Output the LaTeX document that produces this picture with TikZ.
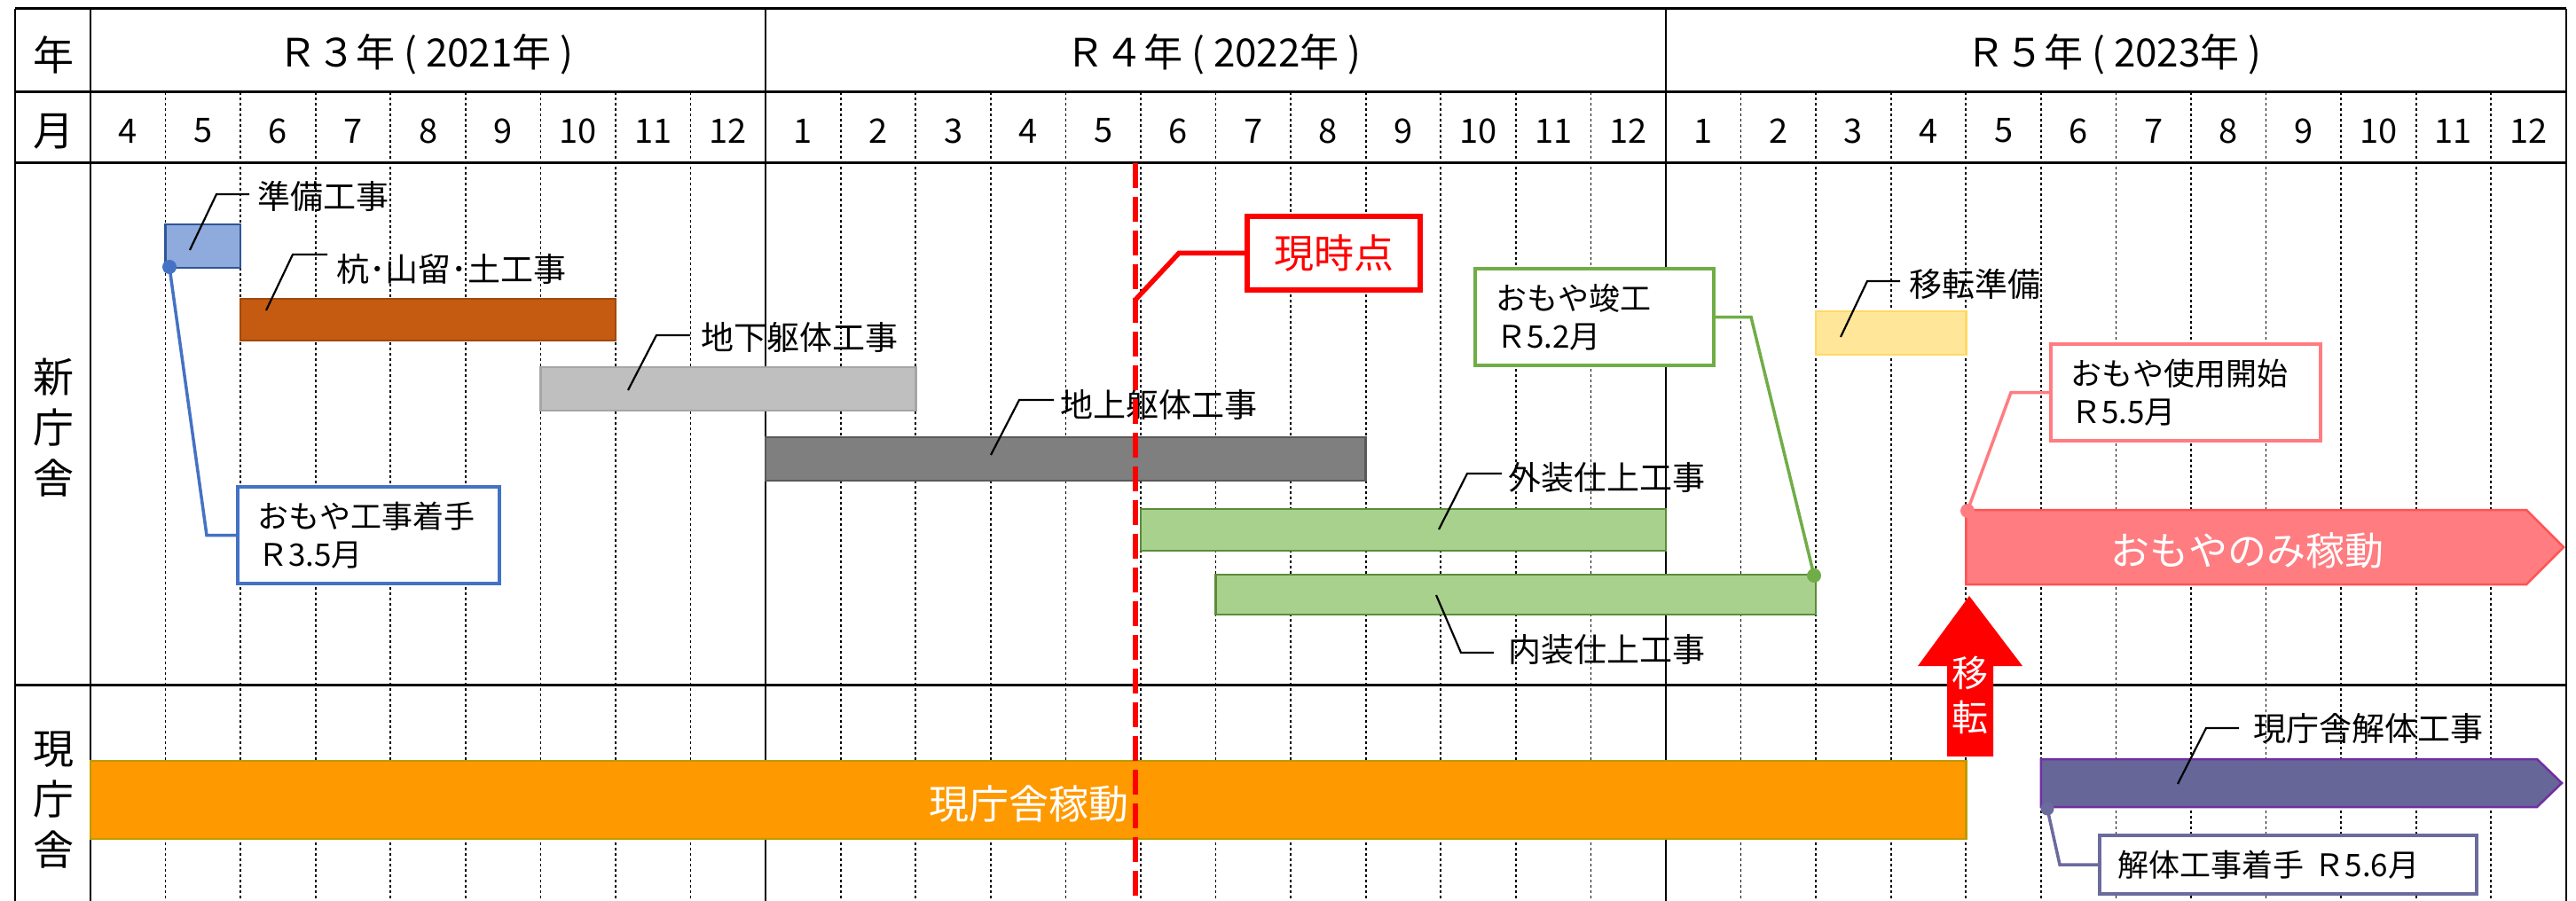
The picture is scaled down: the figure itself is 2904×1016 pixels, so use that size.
\documentclass[tikz,border=0pt]{standalone}
\usepackage{fontspec}
\setmainfont{Noto Sans CJK JP}
\definecolor{prepfill}{HTML}{8FAADC}
\definecolor{prepline}{HTML}{2F5597}
\definecolor{kuifill}{HTML}{C55A11}
\definecolor{kuiline}{HTML}{A0490F}
\definecolor{chikafill}{HTML}{BFBFBF}
\definecolor{chikaline}{HTML}{A6A6A6}
\definecolor{chijofill}{HTML}{7F7F7F}
\definecolor{chijoline}{HTML}{595959}
\definecolor{grnfill}{HTML}{A9D18E}
\definecolor{grnline}{HTML}{5B8C3A}
\definecolor{yelfill}{HTML}{FFE699}
\definecolor{yelline}{HTML}{FFD966}
\definecolor{omofill}{HTML}{FF7C80}
\definecolor{omoline}{HTML}{FF5353}
\definecolor{orgfill}{HTML}{FF9900}
\definecolor{orgline}{HTML}{C09A00}
\definecolor{kaifill}{HTML}{666699}
\definecolor{kailine}{HTML}{7030A0}
\definecolor{callblue}{HTML}{4472C4}
\definecolor{callgreen}{HTML}{70AD47}
\definecolor{callpink}{HTML}{FF7C80}
\definecolor{callpur}{HTML}{6B6B9E}
\definecolor{nowred}{HTML}{FF0000}
\begin{document}
\begin{tikzpicture}[x=1pt,y=-1pt,
  every node/.style={inner sep=0pt,outer sep=0pt},
  headtxt/.style={font=\fontsize{44}{50}\selectfont},
  montxt/.style={font=\fontsize{38}{44}\selectfont},
  sidetxt/.style={font=\fontsize{46}{57}\selectfont,align=center},
  gridln/.style={line width=1.8pt,dash pattern=on 3pt off 3pt},
  frameln/.style={line width=3pt},
  colln/.style={line width=2.5pt},
  yearln/.style={line width=2pt},
  bar/.style={draw,line width=2.5pt,anchor=north west},
  lbl/.style={font=\fontsize{37}{42}\selectfont,anchor=west},
  leader/.style={line width=2.2pt,line join=miter},
  callbox/.style={draw,fill=white,line width=4pt,anchor=north west,align=left,font=\fontsize{35}{43}\selectfont,inner xsep=22pt},
  callln/.style={line width=3.5pt},
  calldot/.style={circle,minimum size=16pt},
  bigtxt/.style={font=\fontsize{45}{50}\selectfont,text=white}
]
\useasboundingbox (0,0) rectangle (2904,1016);
\fill[white] (0,0) rectangle (2904,1016);

% month grid lines
\foreach \i in {1,...,8,10,11,...,20,22,23,...,32}
  \draw[gridln] ({102+84.57*\i},104) -- ({102+84.57*\i},1016);
% year dividers
\draw[yearln] (863.13,10) -- (863.13,1016);
\draw[yearln] (1877.97,10) -- (1877.97,1016);
% frame
\draw[colln] (17,10) -- (17,1016);
\draw[colln] (102,10) -- (102,1016);
\draw[colln] (2893,10) -- (2893,1016);
\draw[frameln] (17,10) -- (2893,10);
\draw[frameln] (17,104) -- (2893,104);
\draw[frameln] (17,184) -- (2893,184);
\draw[frameln] (17,772) -- (2893,772);

% header texts
\node[sidetxt] (nenHead) at (60,62) {年};
\node[sidetxt] (tsukiHead) at (60,148) {月};
\node[headtxt] (r3) at (480,61) {Ｒ３年 ( 2021年 )};
\node[headtxt] (r4) at (1368,61) {Ｒ４年 ( 2022年 )};
\node[headtxt] (r5) at (2383,61) {Ｒ５年 ( 2023年 )};
\foreach \m [count=\k from 0] in {4,5,6,7,8,9,10,11,12,1,2,3,4,5,6,7,8,9,10,11,12,1,2,3,4,5,6,7,8,9,10,11,12}
  \node[montxt] (m\k) at ({102+84.57*(\k+0.5)},147.5) {\m};
\node[sidetxt] (newSide) at (60,482) {新\\庁\\舎};
\node[sidetxt] (oldSide) at (60,902) {現\\庁\\舎};

% bars
\node[bar,fill=prepfill,draw=prepline,minimum width=84.57pt,minimum height=49pt] (prepBar) at (186.57,253) {};
\node[bar,fill=kuifill,draw=kuiline,minimum width=422.85pt,minimum height=47pt] (kuiBar) at (271.14,337) {};
\node[bar,fill=chikafill,draw=chikaline,minimum width=422.85pt,minimum height=49pt] (chikaBar) at (609.42,414) {};
\node[bar,fill=chijofill,draw=chijoline,minimum width=676.56pt,minimum height=49pt] (chijoBar) at (863.13,493) {};
\node[bar,fill=grnfill,draw=grnline,minimum width=591.99pt,minimum height=47pt] (gaisoBar) at (1285.98,574) {};
\node[bar,fill=grnfill,draw=grnline,minimum width=676.56pt,minimum height=45pt] (naisoBar) at (1370.55,648) {};
\node[bar,fill=yelfill,draw=yelline,minimum width=169.14pt,minimum height=49pt] (itenBar) at (2047.11,351) {};
\node[bar,fill=orgfill,draw=orgline,minimum width=2114.25pt,minimum height=88pt] (genBar) at (102,858) {};
\node[bigtxt] (genTxt) at (1160,907) {現庁舎稼動};

\path[fill=omofill,draw=omoline,line width=2.5pt] (2216.25,575) -- (2848,575) -- (2890,617) -- (2848,659) -- (2216.25,659) -- cycle;
\node[bigtxt,font=\fontsize{44}{50}\selectfont] (omoTxt) at (2533,621) {おもやのみ稼動};

\path[fill=kaifill,draw=kailine,line width=2.5pt] (2300.82,856) -- (2860,856) -- (2888,883) -- (2860,910) -- (2300.82,910) -- cycle;

\fill[nowred] (2220,672) -- (2280,751) -- (2247,751) -- (2247,853) -- (2195,853) -- (2195,751) -- (2162,751) -- cycle;
\node[font=\fontsize{41}{50}\selectfont,text=white,align=center] (itenArrowTxt) at (2221,784) {移\\転};

% labels with leaders
\node[lbl] (prepLbl) at (290,221) {準備工事};
\node[lbl] (kuiLbl) at (379,303) {杭･山留･土工事};
\node[lbl] (chikaLbl) at (790,380) {地下躯体工事};
\node[lbl] (chijoLbl) at (1195,456) {地上躯体工事};
\node[lbl] (gaisoLbl) at (1700,538) {外装仕上工事};
\node[lbl] (naisoLbl) at (1700,733) {内装仕上工事};
\node[lbl] (itenLbl) at (2152,320) {移転準備};
\node[lbl] (kaiLbl) at (2540,822) {現庁舎解体工事};

\coordinate (prepPt) at (214,282);   \coordinate (prepBend) at (244,219);
\coordinate (kuiPt) at (300,350);    \coordinate (kuiBend) at (330,287);
\coordinate (chikaPt) at (708,440);  \coordinate (chikaBend) at (740,378);
\coordinate (chijoPt) at (1117,513); \coordinate (chijoBend) at (1149,451);
\coordinate (gaisoPt) at (1622,597); \coordinate (gaisoBend) at (1654,534);
\coordinate (naisoPt) at (1619,671); \coordinate (naisoBend) at (1647,736);
\coordinate (itenPt) at (2075,380);  \coordinate (itenBend) at (2105,317);
\coordinate (kaiPt) at (2455,884);   \coordinate (kaiBend) at (2487,821);

\draw[leader] (prepPt) -- (prepBend) -- ([xshift=-9pt]prepLbl.west |- prepBend);
\draw[leader] (kuiPt) -- (kuiBend) -- ([xshift=-10pt]kuiLbl.west |- kuiBend);
\draw[leader] (chikaPt) -- (chikaBend) -- ([xshift=-12pt]chikaLbl.west |- chikaBend);
\draw[leader] (chijoPt) -- (chijoBend) -- ([xshift=-7pt]chijoLbl.west |- chijoBend);
\draw[leader] (gaisoPt) -- (gaisoBend) -- ([xshift=-7pt]gaisoLbl.west |- gaisoBend);
\draw[leader] (naisoPt) -- (naisoBend) -- ([xshift=-16pt]naisoLbl.west |- naisoBend);
\draw[leader] (itenPt) -- (itenBend) -- ([xshift=-10pt]itenLbl.west |- itenBend);
\draw[leader] (kaiPt) -- (kaiBend) -- ([xshift=-16pt]kaiLbl.west |- kaiBend);

% callouts
\node[callbox,draw=callblue,text width=251pt,minimum height=109pt] (blueBox) at (268,549) {おもや工事着手\\Ｒ3.5月};
\node[calldot,fill=callblue] (blueDot) at (191,301) {};
\draw[callln,callblue] (blueDot.center) -- (233,603.5) -- (blueBox.west);

\node[callbox,draw=callgreen,text width=223pt,minimum height=109pt,inner xsep=23pt] (greenBox) at (1663,303) {おもや竣工\\Ｒ5.2月};
\node[calldot,fill=callgreen] (greenDot) at (2045,649) {};
\draw[callln,callgreen] (greenBox.east) -- (1974,357.5) -- (greenDot.center);

\node[callbox,draw=callpink,text width=260pt,minimum height=109pt] (pinkBox) at (2312,388) {おもや使用開始\\Ｒ5.5月};
\node[calldot,fill=callpink] (pinkDot) at (2218,576) {};
\draw[callln,callpink] (pinkBox.west) -- (2267,442.5) -- (pinkDot.center);

\node[callbox,draw=callpur,text width=385pt,minimum height=66pt,inner xsep=20pt] (purBox) at (2367,942) {解体工事着手 Ｒ5.6月};
\node[calldot,fill=callpur,minimum size=15pt] (purDot) at (2308,912) {};
\draw[callln,callpur] (purDot.center) -- (2322,975) -- (purBox.west);

% current-time line
\coordinate (nowTop) at (1280,184);
\coordinate (nowBot) at (1280,1016);
\coordinate (nowPt) at (1280,338);
\draw[nowred,line width=6pt,dash pattern=on 28pt off 10pt] (nowTop) -- (nowBot);
\node[callbox,draw=nowred,line width=5.5pt,text width=175pt,align=center,minimum height=83pt,inner xsep=10pt,font=\fontsize{45}{50}\selectfont,text=nowred] (nowBox) at (1406,244) {現時点};
\draw[nowred,line width=5.5pt,line join=miter] (nowBox.west) -- (1329,285.5) -- (nowPt);
\end{tikzpicture}
\end{document}
